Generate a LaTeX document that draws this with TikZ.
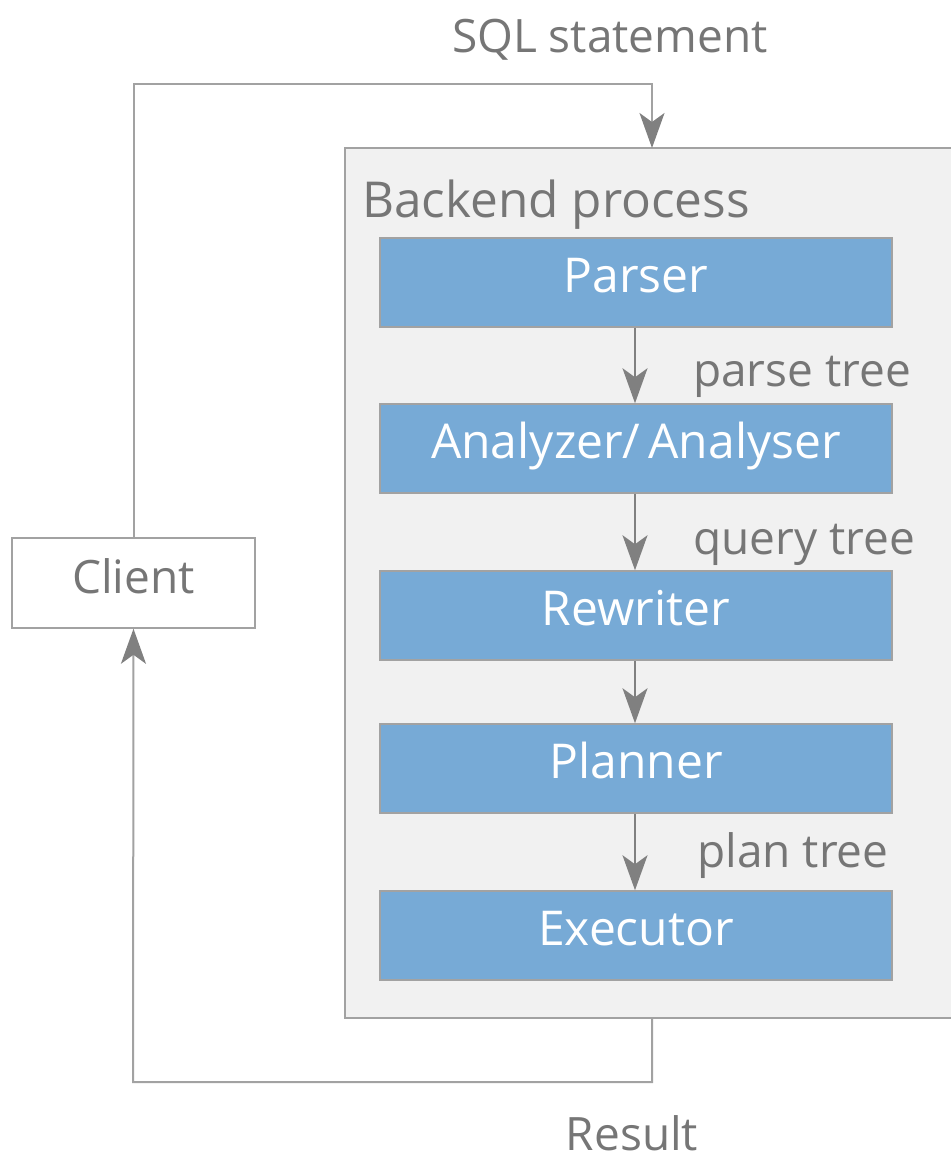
\documentclass[tikz,border=0pt]{standalone}
\usepackage{fontspec}
\setmainfont{Open Sans}
\usetikzlibrary{arrows.meta}
\definecolor{linegray}{HTML}{A2A2A2}
\definecolor{arrgray}{HTML}{808080}
\definecolor{txtgray}{HTML}{767676}
\definecolor{panel}{HTML}{F1F1F1}
\definecolor{stage}{HTML}{77AAD6}
\tikzset{
  stagebox/.style={draw=linegray, line width=1.5pt, fill=stage, text=white,
    minimum width=512pt, minimum height=89pt, inner sep=0pt,
    text height=34pt, text depth=14pt, font=\fontsize{48}{52}\selectfont},
  clientbox/.style={draw=linegray, line width=1.5pt, fill=white, text=txtgray,
    minimum width=243pt, minimum height=90pt, inner sep=0pt,
    text height=34pt, text depth=14pt, font=\fontsize{46}{50}\selectfont},
  lbl/.style={text=txtgray, inner sep=0pt, font=\fontsize{46}{50}\selectfont},
  title/.style={text=txtgray, inner sep=0pt, font=\fontsize{49.5}{54}\selectfont},
  flow/.style={draw=arrgray, line width=2pt, -{Stealth[length=35pt,width=25pt,inset=9pt]}},
  loop/.style={draw=linegray, line width=2pt, -{Stealth[length=35pt,width=25pt,inset=9pt,color=arrgray]}},
}
\begin{document}
\begin{tikzpicture}[x=1pt,y=-1pt]
\useasboundingbox (0,0) rectangle (951,1160);

% backend process panel
\draw[draw=linegray, line width=1.5pt, fill=panel] (345,148) rectangle (975,1018);
\coordinate (beTop) at (652,148);
\coordinate (beBot) at (652,1018);
\node[title, anchor=base west] (betitle) at (362,217) {Backend process};

% pipeline stages
\node[stagebox] (parser)   at (636,282.5) {Parser};
\node[stagebox] (analyzer) at (636,448.5) {Analyzer/\,Analyser};
\node[stagebox] (rewriter) at (636,615.5) {Rewriter};
\node[stagebox] (planner)  at (636,768.5) {Planner};
\node[stagebox] (executor) at (636,935.5) {Executor};

\draw[flow] (parser.south -| 635,0) -- (analyzer.north -| 635,0);
\draw[flow] (analyzer.south -| 635,0) -- (rewriter.north -| 635,0);
\draw[flow] (rewriter.south -| 635,0) -- (planner.north -| 635,0);
\draw[flow] (planner.south -| 635,0) -- (executor.north -| 635,0);

\node[lbl, anchor=base west] (pt) at (693,386) {parse tree};
\node[lbl, anchor=base west] (qt) at (693,554) {query tree};
\node[lbl, anchor=base west] (plt) at (697,867) {plan tree};

% client and request/response loop
\node[clientbox] (client) at (133.5,583) {Client};
\draw[loop] (client.north) |- (652,84) -- (beTop);
\draw[loop] (beBot) |- (133,1082) -- (client.south);

\node[lbl, anchor=base] (sql) at (610,52) {SQL statement};
\node[lbl, anchor=base] (res) at (632,1150) {Result};
\end{tikzpicture}
\end{document}
